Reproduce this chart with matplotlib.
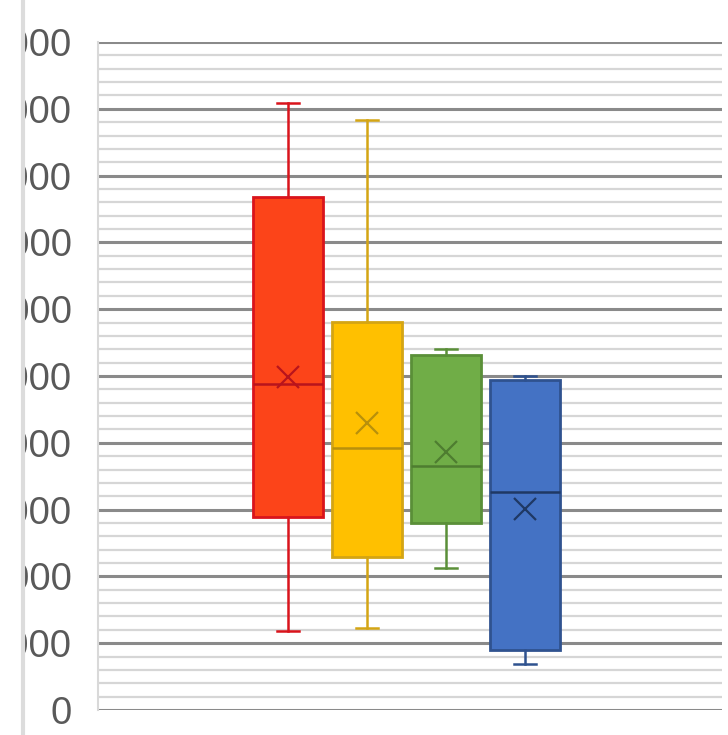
import matplotlib.pyplot as plt
from matplotlib.patches import Rectangle
from matplotlib.lines import Line2D
from matplotlib.ticker import MultipleLocator

# box statistics
series = ["A", "B", "C", "D"]
whislo = [1180, 1230, 2125, 690]
q1 = [2890, 2290, 2800, 900]
med = [4880, 3920, 3650, 3265]
mean = [4985, 4300, 3860, 3010]
q3 = [7680, 5810, 5315, 4940]
whishi = [9090, 8830, 5400, 5000]

y_ticks = list(range(0, 10001, 1000))

face_colors = ["#FC4419", "#FFC000", "#70AD47", "#4472C4"]
edge_colors = ["#D9141C", "#D4A514", "#5A8F38", "#2F528F"]
mark_colors = ["#B8141C", "#B8900C", "#4E7D30", "#1F3864"]

fig = plt.figure(figsize=(7.28, 7.35), dpi=100)
ax = fig.add_axes([98 / 728, 25 / 735, 624 / 728, 668 / 735])

positions = [1, 2, 3, 4]
for i, pos in enumerate(positions):
    stats = [{
        "whislo": whislo[i], "q1": q1[i], "med": med[i], "mean": mean[i],
        "q3": q3[i], "whishi": whishi[i], "fliers": [],
    }]
    ax.bxp(
        stats, positions=[pos], widths=0.89, capwidths=0.27,
        patch_artist=True, showmeans=True, showfliers=False,
        boxprops=dict(facecolor=face_colors[i], edgecolor=edge_colors[i], linewidth=2),
        medianprops=dict(color=mark_colors[i], linewidth=1.8),
        whiskerprops=dict(color=edge_colors[i], linewidth=1.8),
        capprops=dict(color=edge_colors[i], linewidth=1.8),
        meanprops=dict(marker="x", markersize=16, markeredgewidth=1.6,
                       markeredgecolor=mark_colors[i], linestyle="none"),
        zorder=3,
    )

ax.set_xlim(-1.405, 6.494)
ax.set_ylim(0, 10000)
ax.set_yticks(y_ticks)
ax.set_yticklabels([str(v) for v in y_ticks], fontsize=27.5,
                   fontfamily="Liberation Sans", color="#595959")
ax.yaxis.set_minor_locator(MultipleLocator(200))
ax.tick_params(axis="y", which="both", length=0, pad=19)
ax.set_xticks([])

ax.grid(axis="y", which="minor", color="#d6d6d6", linewidth=1.6, zorder=0)
ax.grid(axis="y", which="major", color="#8a8a8a", linewidth=2.2, zorder=1)
ax.set_axisbelow(True)

for side in ["top", "right", "bottom"]:
    ax.spines[side].set_visible(False)
ax.spines["left"].set_color("#d9d9d9")
ax.spines["left"].set_linewidth(1.5)

# the picture is cut on the left; mask the hidden part of the labels
fig.add_artist(Rectangle((0, 0), 21 / 728, 1, transform=fig.transFigure,
                         facecolor="white", edgecolor="none", zorder=10))
fig.add_artist(Line2D([22.5 / 728, 22.5 / 728], [0, 1], transform=fig.transFigure,
                      color="#dcdcdc", linewidth=3, zorder=11))

fig.savefig("out.png", dpi=100)
